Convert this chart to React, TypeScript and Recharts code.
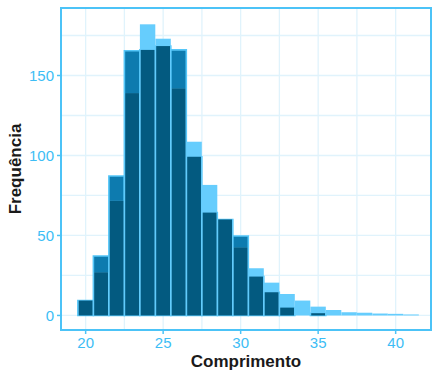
import React from 'react';
import { ComposedChart, Bar, XAxis, YAxis, CartesianGrid, ReferenceArea, Label } from 'recharts';

// Histogram bins (centre of each 1-unit bin)
const bins = [20, 21, 22, 23, 24, 25, 26, 27, 28, 29, 30, 31, 32, 33, 34, 35, 36, 37, 38, 39, 40, 41];
// Light (sky blue) group counts
const grupoClaro = [9.3, 27, 71.7, 139, 182, 173, 142, 108.6, 81.6, 60, 42.6, 29.5, 20.5, 13.4, 9.3, 5.5, 3.4, 2, 1.7, 1.2, 1, 0.6];
// Darker blue group counts
const grupoEscuro = [9.3, 37.2, 87.2, 165.5, 166, 168.4, 166, 99.2, 64.3, 60, 49.7, 24.3, 14.5, 4.9, 0, 1.4, 0, 0, 0, 0, 0, 0];

const xTicks = [20, 25, 30, 35, 40];
const yTicks = [0, 50, 100, 150];
const xGridTicks = [20, 22.5, 25, 27.5, 30, 32.5, 35, 37.5, 40];
const yGridTicks = [0, 25, 50, 75, 100, 125, 150, 175];

const X_DOMAIN: [number, number] = [18.41, 42.28];
const Y_DOMAIN: [number, number] = [-9.1, 192.2];

const LIGHT = '#66cdfd';
const MEDIUM = '#0d7baf';
const DARK = '#035a80';
const OUTLINE = '#55c6f8';
const AXIS = '#4cc3f7';
const TICK_TEXT = '#3dbdf5';
const GRID = '#e0f3fc';
const SW = 1.6;

const data = bins.map((c, i) => ({ comprimento: c, claro: grupoClaro[i], escuro: grupoEscuro[i] }));

const ShapeClaro = (props: any) => {
  const { x, y, width, height, payload } = props;
  if (!(height > 0) || !payload) return null;
  const perUnit = height / payload.claro;
  const ov = Math.min(payload.claro, payload.escuro) * perUnit;
  return (
    <g>
      <rect x={x} y={y} width={width} height={height} fill={LIGHT} />
      {ov > 0 && (
        <rect x={x + SW / 2} y={y + height - ov} width={width - SW} height={ov} fill={DARK} />
      )}
    </g>
  );
};

const XTitle = (props: any) => {
  const vb = props.viewBox || { x: 61, y: 330, width: 370, height: 41 };
  return (
    <text
      x={vb.x + vb.width / 2}
      y={vb.y + 37}
      textAnchor="middle"
      fontFamily="Liberation Sans, Arial, sans-serif"
      fontWeight="bold"
      fontSize={17}
      fill="#1a1a1a"
    >
      Comprimento
    </text>
  );
};

const YTitle = (props: any) => {
  const vb = props.viewBox || { x: 0, y: 8, width: 61, height: 322 };
  const cx = vb.x + 21;
  const cy = vb.y + vb.height / 2;
  return (
    <text
      x={cx}
      y={cy}
      transform={`rotate(-90, ${cx}, ${cy})`}
      textAnchor="middle"
      fontFamily="Liberation Sans, Arial, sans-serif"
      fontWeight="bold"
      fontSize={17}
      fill="#1a1a1a"
    >
      Frequência
    </text>
  );
};

export default function App() {
  return (
    <div style={{ position: 'absolute', left: 0, top: 0, width: 433, height: 371, background: '#fff' }}>
      <ComposedChart
        width={433}
        height={371}
        data={data}
        margin={{ top: 8, right: 2, bottom: 0, left: 0 }}
        barGap={0}
        barCategoryGap={0}
        style={{ fontFamily: 'Liberation Sans, Arial, sans-serif' }}
      >
        <CartesianGrid xAxisId="zg" yAxisId="zg" stroke={GRID} strokeWidth={1.3} />
        <XAxis
          xAxisId="amain"
          dataKey="comprimento"
          type="number"
          domain={X_DOMAIN}
          allowDataOverflow
          ticks={xTicks}
          height={41}
          tickSize={4}
          tickMargin={3}
          axisLine={false}
          tickLine={{ stroke: AXIS, strokeWidth: 1.5 }}
          tick={{ fill: TICK_TEXT, fontSize: 15 }}
          label={<Label content={XTitle} />}
        />
        <XAxis xAxisId="zb" dataKey="comprimento" type="number" domain={X_DOMAIN} allowDataOverflow hide height={0} />
        <XAxis xAxisId="zg" dataKey="comprimento" type="number" domain={X_DOMAIN} allowDataOverflow ticks={xGridTicks} hide height={0} />
        <YAxis
          yAxisId="amain"
          type="number"
          domain={Y_DOMAIN}
          allowDataOverflow
          ticks={yTicks}
          width={61}
          tickSize={4}
          tickMargin={3}
          axisLine={false}
          tickLine={{ stroke: AXIS, strokeWidth: 1.5 }}
          tick={{ fill: TICK_TEXT, fontSize: 15 }}
          label={<Label content={YTitle} />}
        />
        <YAxis yAxisId="zg" type="number" domain={Y_DOMAIN} allowDataOverflow ticks={yGridTicks} hide width={0} />
        <Bar
          xAxisId="zb"
          yAxisId="amain"
          dataKey="escuro"
          fill={MEDIUM}
          stroke={OUTLINE}
          strokeWidth={SW}
          barSize={15.4}
          isAnimationActive={false}
        />
        <Bar
          xAxisId="amain"
          yAxisId="amain"
          dataKey="claro"
          fill={LIGHT}
          shape={ShapeClaro}
          barSize={15.4}
          isAnimationActive={false}
        />
        <ReferenceArea
          xAxisId="amain"
          yAxisId="amain"
          x1={X_DOMAIN[0]}
          x2={X_DOMAIN[1]}
          y1={Y_DOMAIN[0]}
          y2={Y_DOMAIN[1]}
          fill="none"
          stroke={AXIS}
          strokeWidth={2}
          fillOpacity={0}
        />
      </ComposedChart>
    </div>
  );
}
